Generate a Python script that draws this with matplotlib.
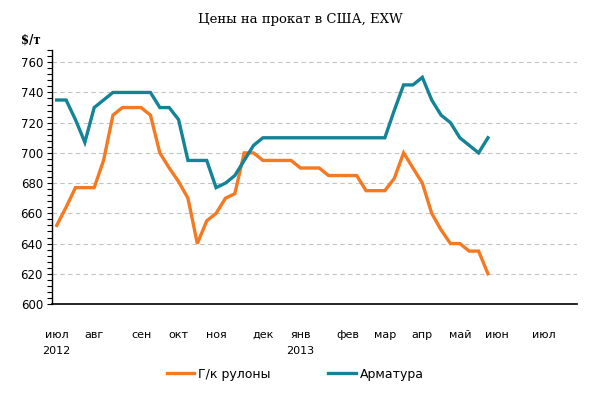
import matplotlib
matplotlib.use("Agg")
import matplotlib.pyplot as plt
from matplotlib.ticker import MultipleLocator

# weekly prices, jul 2012 - may 2013 ($/t)
coil = [652, 664, 677, 677, 677, 695, 725, 730, 730, 730,
        725, 700, 690, 681, 670, 640, 655, 660, 670, 673,
        700, 700, 695, 695, 695, 695, 690, 690, 690, 685,
        685, 685, 685, 675, 675, 675, 683, 700, 690, 680,
        660, 649, 640, 640, 635, 635, 620]
rebar = [735, 735, 722, 707, 730, 735, 740, 740, 740, 740,
         740, 730, 730, 722, 695, 695, 695, 677, 680, 685,
         695, 705, 710, 710, 710, 710, 710, 710, 710, 710,
         710, 710, 710, 710, 710, 710, 728, 745, 745, 750,
         735, 725, 720, 710, 705, 700, 710]
n_weeks = 56
month_pos = [0, 4, 9, 13, 17, 22, 26, 31, 35, 39, 43, 47, 52]
month_lbl = ["июл\n2012", "авг", "сен", "окт", "ноя", "дек", "янв\n2013",
             "фев", "мар", "апр", "май", "июн", "июл"]

orange = "#F47920"
teal = "#138396"

fig = plt.figure(figsize=(6, 3.98), dpi=100)
ax = fig.add_axes([0.0867, 0.2362, 0.875, 0.6378])

x = list(range(len(coil)))
ax.plot(x, coil, color=orange, lw=2.4, label="Г/к рулоны", solid_joinstyle="miter")
ax.plot(x, rebar, color=teal, lw=2.4, label="Арматура", solid_joinstyle="miter")

ax.set_xlim(-0.5, n_weeks - 0.5)
ax.set_ylim(600, 768)
ax.yaxis.set_major_locator(MultipleLocator(20))
ax.yaxis.set_minor_locator(MultipleLocator(4))
ax.set_yticks(range(600, 761, 20))
for v in range(620, 761, 20):
    ax.axhline(v, color="#C4C4C4", lw=0.8, ls=(0, (4, 3)), zorder=0)

ax.set_xticks(month_pos)
ax.set_xticklabels(month_lbl, fontsize=8, linespacing=1.75, va="top")
ax.tick_params(axis="x", length=0, pad=18.5)
ax.tick_params(axis="y", which="both", direction="out", length=3.5, width=0.8, labelsize=8.5, pad=3)

for s in ["top", "right"]:
    ax.spines[s].set_visible(False)
ax.spines["left"].set_linewidth(1)
ax.spines["bottom"].set_linewidth(1.2)

fig.text(0.5, 0.95, "Цены на прокат в США, EXW", ha="center", va="center",
         family="DejaVu Serif", fontsize=9.5)
fig.text(0.035, 0.9, "$/т", ha="left", va="center", family="DejaVu Serif",
         fontsize=8.5, fontweight="bold")

fig.legend(loc="center", bbox_to_anchor=(0.492, 0.06), ncol=2, frameon=False,
           fontsize=9, handlelength=2.2, columnspacing=4.6, handletextpad=0.3)

fig.savefig("out.png", dpi=100)
